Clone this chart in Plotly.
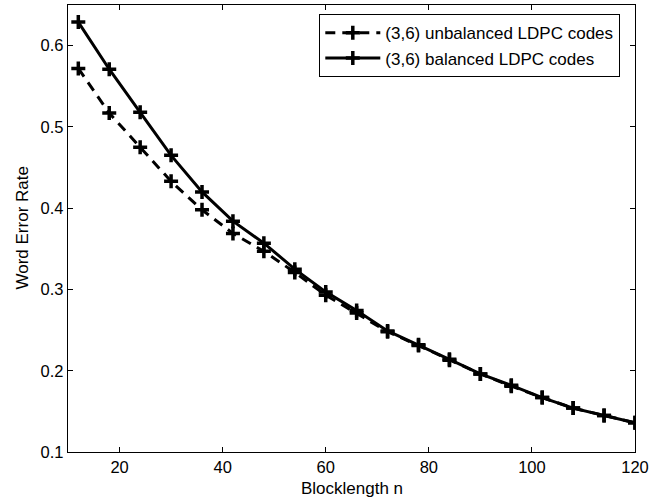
import plotly.graph_objects as go

n = [12, 18, 24, 30, 36, 42, 48, 54, 60, 66, 72, 78, 84, 90, 96, 102, 108, 114, 120]
wer_unbalanced = [0.572, 0.517, 0.475, 0.433, 0.398, 0.369, 0.347, 0.321, 0.293, 0.271,
                  0.248, 0.231, 0.213, 0.196, 0.181, 0.167, 0.154, 0.145, 0.136]
wer_balanced = [0.629, 0.571, 0.518, 0.465, 0.420, 0.384, 0.357, 0.325, 0.297, 0.274,
                0.249, 0.232, 0.214, 0.196, 0.182, 0.167, 0.154, 0.145, 0.136]
names = ["(3,6) unbalanced LDPC codes", "(3,6) balanced LDPC codes"]
x_ticks = [20, 40, 60, 80, 100, 120]
y_ticks = [0.1, 0.2, 0.3, 0.4, 0.5, 0.6]
x_title = "Blocklength n"
y_title = "Word Error Rate"

FONT = "Liberation Sans, Arial, Helvetica, sans-serif"
W, H = 662, 499
ML, MR, MT, MB = 68, 27, 5, 47
PW, PH = W - ML - MR, H - MT - MB

fig = go.Figure()
fig.add_trace(go.Scatter(
    x=n, y=wer_unbalanced, name=names[0], mode="lines+markers",
    line=dict(color="black", width=3, dash="10px,7px"),
    marker=dict(symbol="cross-thin", size=10, color="black",
                line=dict(color="black", width=3.5)),
))
fig.add_trace(go.Scatter(
    x=n, y=wer_balanced, name=names[1], mode="lines+markers",
    line=dict(color="black", width=3),
    marker=dict(symbol="cross-thin", size=10, color="black",
                line=dict(color="black", width=3.5)),
))

axis_common = dict(
    showline=True, linecolor="black", linewidth=1.3, mirror="ticks",
    ticks="inside", ticklen=5, tickcolor="black", tickwidth=1,
    showgrid=False, zeroline=False,
    tickfont=dict(family=FONT, size=16.5, color="black"),
)

fig.update_layout(
    width=W, height=H,
    margin=dict(l=ML, r=MR, t=MT, b=MB),
    paper_bgcolor="white", plot_bgcolor="white",
    font=dict(family=FONT, size=17, color="black"),
    showlegend=True,
    legend=dict(
        x=(319 - ML) / PW, y=1 - (14 - MT) / PH, xanchor="left", yanchor="top",
        bgcolor="white", bordercolor="black", borderwidth=1.3,
        font=dict(family=FONT, size=17, color="black"),
        itemwidth=55, tracegroupgap=0,
    ),
    xaxis=dict(range=[10, 120], tickvals=x_ticks, **axis_common),
    yaxis=dict(range=[0.1, 0.65], tickvals=y_ticks,
               ticktext=[f"{v:.1f}" for v in y_ticks], **axis_common),
    annotations=[
        dict(text=x_title, xref="paper", yref="paper", x=0.5, y=-37 / PH,
             xanchor="center", yanchor="middle", showarrow=False,
             font=dict(family=FONT, size=17, color="black")),
        dict(text=y_title, xref="paper", yref="paper", x=(22 - ML) / PW, y=0.5,
             xanchor="center", yanchor="middle", textangle=-90, showarrow=False,
             font=dict(family=FONT, size=17, color="black")),
    ],
)

fig.write_html(
    "out.html",
    config={"displayModeBar": False},
    post_script="document.body.style.margin='0px';document.documentElement.style.overflow='hidden';",
)
